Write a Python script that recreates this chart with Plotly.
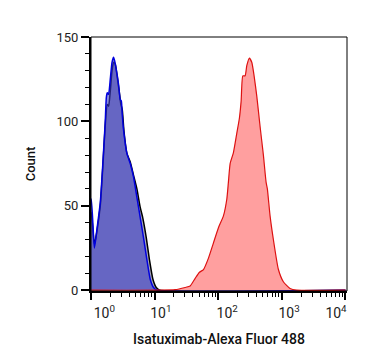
import plotly.graph_objects as go

# Isotype / control (black outline)
ctrl_x = [0.95, 1.00, 1.13, 1.24, 1.40, 1.54, 1.67, 1.80, 1.89, 2.01, 2.14, 2.26, 2.40, 2.55, 2.75,
          2.95, 3.10, 3.30, 3.67, 4.14, 4.67, 5.27, 5.94, 6.50, 7.40, 8.30, 9.40, 10.6, 12.0, 10000]
ctrl_y = [46, 46, 27, 35, 50, 74, 97, 110, 109, 118, 130, 135, 134, 128, 119,
          110, 107, 94, 81, 76, 68, 60, 49, 43, 31, 18, 6.5, 1.6, 0, 0]

# Unstained / negative (blue)
neg_x = [0.95, 1.00, 1.13, 1.24, 1.40, 1.54, 1.67, 1.74, 1.80, 1.89, 2.01, 2.14, 2.26, 2.35, 2.49,
         2.71, 2.88, 3.00, 3.10, 3.25, 3.67, 4.14, 4.67, 5.27, 5.94, 6.70, 7.57, 8.53, 9.62, 10.9, 10000]
neg_y = [54, 54, 25, 36, 52, 76, 99, 114, 117, 116, 125, 135, 138, 136, 131,
         122, 113, 112, 104, 95, 81, 75, 67, 55, 43, 31, 18, 6.5, 1.6, 0, 0]

# Isatuximab stained (red)
pos_x = [0.95, 21.0, 30.2, 36.2, 43.4, 50.7, 58.6, 70.2, 84.1, 100.7, 120.7, 136.5, 144.5, 153.8,
         173.3, 195.9, 215.3, 229.0, 243.4, 264.4, 281.0, 309.0, 336.7, 366.2, 403.5, 454.7,
         512.6, 565.0, 591.9, 652.8, 735.6, 881.0, 1056, 1345, 1714, 10000]
pos_y = [0, 0.3, 1.6, 2.5, 7, 10.6, 12.2, 19, 28, 37, 44, 54, 64, 75,
         81.5, 93, 102, 112, 127, 127, 133, 137.5, 135, 127, 115, 97,
         80, 64, 60, 44, 30, 12.4, 5, 1, 0, 0]

x_tickvals = [1, 10, 100, 1000, 10000]
# where the decade labels sit (slightly offset from their ticks, as in the original)
x_labelpos = [1.62, 12.5, 138, 1300, 7100]
x_ticktext = ["10<sup>0</sup>", "10<sup>1</sup>", "10<sup>2</sup>", "10<sup>3</sup>", "10<sup>4</sup>"]
y_tickvals = [0, 50, 100, 150]

XRANGE = [0, 4.024]

fig = go.Figure()
fig.add_trace(go.Scatter(x=ctrl_x, y=ctrl_y, mode="lines", fill="tozeroy",
                         line=dict(color="black", width=1.5, shape="spline", smoothing=0.5),
                         fillcolor="rgba(0,0,60,0.35)", showlegend=False))
fig.add_trace(go.Scatter(x=neg_x, y=neg_y, mode="lines", fill="tozeroy",
                         line=dict(color="#0000dd", width=1.5, shape="spline", smoothing=0.5),
                         fillcolor="rgba(60,60,200,0.6)", showlegend=False))
fig.add_trace(go.Scatter(x=pos_x, y=pos_y, mode="lines", fill="tozeroy",
                         line=dict(color="#dd1111", width=1.2, shape="spline", smoothing=0.5),
                         fillcolor="rgba(255,80,80,0.55)", showlegend=False))

# page body has an 8px default margin, so the figure is sized/margined to compensate
fig.update_layout(
    width=359, height=356,
    margin=dict(l=83, r=20, t=29, b=73, autoexpand=False),
    paper_bgcolor="white", plot_bgcolor="white",
    font=dict(family="Roboto", size=13, color="#222"),
    shapes=[dict(type="rect", xref="paper", yref="paper", x0=0, y0=0, x1=1, y1=1,
                 line=dict(color="black", width=1), layer="above")],
    xaxis=dict(
        type="log", range=XRANGE, automargin=False,
        tickvals=x_tickvals, showticklabels=False,
        ticks="outside", ticklen=7, tickwidth=1.5, tickcolor="black",
        showline=True, linecolor="black", linewidth=2,
        showgrid=False, zeroline=False,
        minor=dict(ticks="outside", ticklen=4, tickwidth=1, tickcolor="black", dtick="D1", showgrid=False),
    ),
    xaxis2=dict(
        type="log", range=XRANGE, overlaying="x", side="bottom", automargin=False,
        tickvals=x_labelpos, ticktext=x_ticktext,
        ticks="outside", ticklen=9, tickcolor="rgba(0,0,0,0)",
        showline=False, showgrid=False, zeroline=False,
        tickfont=dict(size=14, color="#222"),
        title=dict(text="Isatuximab-Alexa Fluor 488", font=dict(size=14, color="#111", weight=500), standoff=14),
    ),
    yaxis=dict(
        range=[-0.5, 150], automargin=False,
        tickvals=y_tickvals,
        ticks="outside", ticklen=8, tickwidth=1.5, tickcolor="black",
        showline=True, linecolor="black", linewidth=2,
        showgrid=False, zeroline=False,
        tickfont=dict(size=13, color="#222"),
        minor=dict(ticks="outside", ticklen=4, tickwidth=1, tickcolor="black", dtick=10, showgrid=False),
        title=dict(text="Count", font=dict(size=13, color="#111", weight=500), standoff=18),
    ),
)
# invisible anchor so the label axis is rendered
fig.add_trace(go.Scatter(x=[1], y=[0], xaxis="x2", mode="markers", marker=dict(opacity=0),
                         hoverinfo="skip", showlegend=False))

fig.write_html("out.html")
